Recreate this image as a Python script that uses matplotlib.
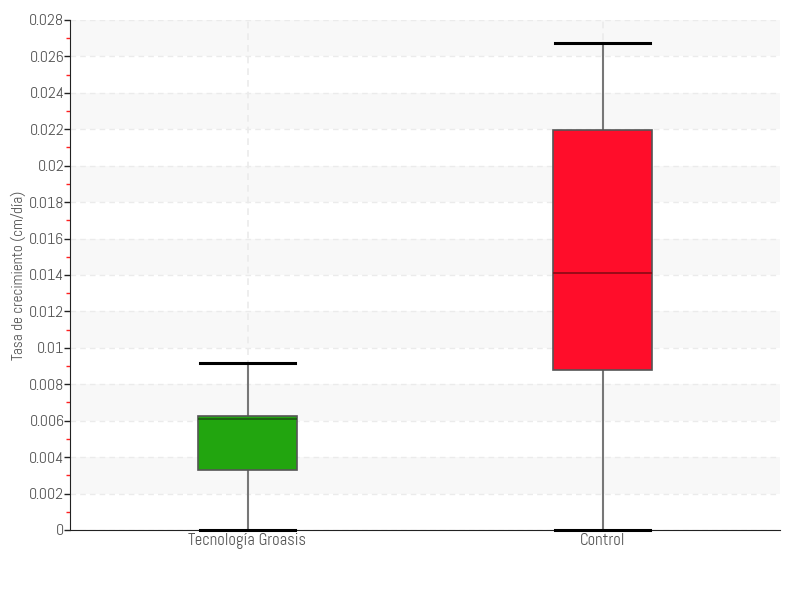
import matplotlib
matplotlib.use("Agg")
import matplotlib.pyplot as plt
from matplotlib.ticker import MultipleLocator, FuncFormatter
from matplotlib import font_manager as fm

categories = ["Tecnología Groasis", "Control"]
whislo = [0.0, 0.0]
q1 = [0.00329, 0.00878]
med = [0.00609, 0.01411]
q3 = [0.00626, 0.02196]
whishi = [0.00917, 0.02674]
colors = ["#22a50f", "#ff0d2a"]
median_colors = ["#1a5a10", "#8a0a15"]
ylabel = "Tasa de crecimiento (cm/día)"

names = {f.name for f in fm.fontManager.ttflist}
fams = [n for n in ["Abel", "Dosis"] if n in names] + ['DejaVu Sans']
plt.rcParams['font.family'] = fams
if fams[0] == 'DejaVu Sans':
    plt.rcParams['font.stretch'] = 'condensed'

fig = plt.figure(figsize=(8, 6), dpi=100)
ax = fig.add_axes([0.0875, 0.1167, 0.8875, 0.85])

ymax = 0.028
for i in range(14):
    lo = i * 0.002
    if i % 2 == 1:
        ax.axhspan(lo, lo + 0.002, color="#f8f8f8", zorder=0, lw=0)

stats = []
for i, c in enumerate(categories):
    stats.append(dict(label=c, whislo=whislo[i], q1=q1[i], med=med[i],
                      q3=q3[i], whishi=whishi[i], fliers=[]))

bp = ax.bxp(stats, positions=range(len(categories)), widths=0.28,
            patch_artist=True, showfliers=False,
            whiskerprops=dict(color="#777777", lw=1.5),
            capprops=dict(color="#000000", lw=2.2),
            boxprops=dict(edgecolor="#555555", lw=1.2),
            medianprops=dict(lw=1.2))
for i, b in enumerate(bp['boxes']):
    b.set_facecolor(colors[i])
    b.set_zorder(3)
for i, m in enumerate(bp['medians']):
    m.set_color(median_colors[i])
    m.set_zorder(4)
for i, cap in enumerate(bp['caps']):
    xd = cap.get_xdata()
    cx = (xd[0] + xd[1]) / 2
    cap.set_xdata([cx - 0.135, cx + 0.135])
    cap.set_zorder(4)
    cap.set_clip_on(False)

ax.set_xlim(-0.5, 1.5)
ax.set_ylim(0, ymax)
ax.yaxis.set_major_locator(MultipleLocator(0.002))
ax.yaxis.set_minor_locator(MultipleLocator(0.001))
ax.yaxis.set_major_formatter(FuncFormatter(lambda v, p: "%g" % round(v, 4)))
ax.tick_params(axis='y', which='major', length=4, width=1, color="#222222",
               labelsize=11.5, labelcolor="#555555", pad=0)
ax.tick_params(axis='y', which='minor', length=3, width=1, color="#ff2020")
ax.tick_params(axis='x', length=0, labelsize=12, labelcolor="#555555", pad=2)

ax.grid(axis='y', which='major', ls=(0, (4, 3)), color="#ebebeb", lw=1, zorder=1)
ax.grid(axis='x', which='major', ls=(0, (4, 3)), color="#ebebeb", lw=1.2, zorder=1)
ax.set_axisbelow(True)

for s in ['top', 'right']:
    ax.spines[s].set_visible(False)
ax.spines['left'].set_color("#222222")
ax.spines['bottom'].set_color("#222222")

ax.set_ylabel(ylabel, fontsize=11, color="#555555")
ax.yaxis.set_label_coords(-0.062, 0.5)

fig.savefig("out.png", dpi=100)
